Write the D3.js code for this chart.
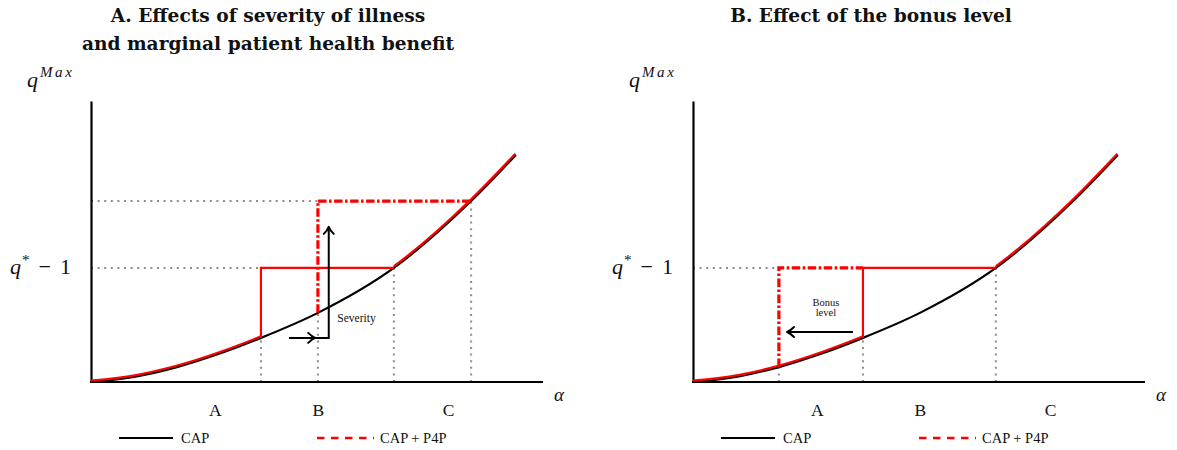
<!DOCTYPE html>
<html><head><meta charset="utf-8">
<script src="https://cdn.jsdelivr.net/npm/d3@7"></script>
<style>
body{margin:0;background:#fff;}
svg{display:block;}
text{font-family:"Liberation Serif","DejaVu Serif",serif;fill:#111;}
.title{font-family:"DejaVu Serif",serif;font-weight:bold;font-size:18.6px;}
</style></head><body>
<svg id="c" width="1177" height="450"></svg>
<script>
// ---- data ----
const alpha  = [0, 0.104, 0.190, 0.288, 0.376, 0.502, 0.670, 0.841, 0.940];
const qCurve = [0, 0.021, 0.053, 0.103, 0.157, 0.246, 0.406, 0.644, 0.808];
const qStarMinus1 = 0.406;
const qHighA = 0.644;
const cutsA = [0.376, 0.502, 0.670, 0.841];
const cutsB = [0.190, 0.376, 0.670];
const regionLabels = ["A", "B", "C"];
const regionAlpha = [0.275, 0.503, 0.791];
const titlesA = ["A. Effects of severity of illness", "and marginal patient health benefit"];
const titlesB = ["B. Effect of the bonus level"];
const legendLabels = ["CAP", "CAP + P4P"];

const svg = d3.select("#c");
const y = d3.scaleLinear().domain([0, 1]).range([382, 101]);
const qAt = a => qCurve[alpha.indexOf(a)];
const pts = alpha.map((a, i) => [a, qCurve[i]]);

const defs = svg.append("defs");

function arrowHead(g, x0, y0, angle) {
  g.append("path")
    .attr("d", "M-7,-5 Q-3,-1 0,0 Q-3,1 -7,5")
    .attr("fill", "none").attr("stroke", "#000").attr("stroke-width", 2)
    .attr("stroke-linejoin", "round").attr("stroke-linecap", "round")
    .attr("transform", `translate(${x0},${y0}) rotate(${angle})`);
}

function panel(id, x0, cuts, highLevels, titleLines, titleCx) {
  const x = d3.scaleLinear().domain([0, 1]).range([x0, x0 + 452]);
  const g = svg.append("g");
  const line = d3.line().x(d => x(d[0])).y(d => y(d[1])).curve(d3.curveMonotoneX);
  const gray = "#8c8c8c";

  // titles
  titleLines.forEach((t, i) => g.append("text").attr("class", "title")
    .attr("x", titleCx).attr("y", 22 + i * 28).attr("text-anchor", "middle").text(t));

  // dotted guides
  highLevels.forEach(h => g.append("line")
    .attr("x1", x(0)).attr("x2", x(h.a)).attr("y1", y(h.q)).attr("y2", y(h.q))
    .attr("stroke", gray).attr("stroke-width", 2).attr("stroke-dasharray", "2,4.6"));
  cuts.forEach(c => g.append("line")
    .attr("x1", x(c.a)).attr("x2", x(c.a)).attr("y1", y(0)).attr("y2", y(c.top))
    .attr("stroke", gray).attr("stroke-width", 2).attr("stroke-dasharray", "2,4.6"));

  // axes
  g.append("g").attr("transform", `translate(0,${y(0)})`)
    .call(d3.axisBottom(x).ticks(0).tickSizeOuter(0))
    .call(s => s.select(".domain").attr("stroke-width", 2.2).attr("d", `M${x(0)-1},0H${x(1)}`));
  g.append("g").attr("transform", `translate(${x(0)},0)`)
    .call(d3.axisLeft(y).ticks(0).tickSizeOuter(0))
    .call(s => s.select(".domain").attr("stroke-width", 2.2));

  // black curve
  g.append("path").datum(pts).attr("d", line).attr("fill", "none")
    .attr("stroke", "#000").attr("stroke-width", 2.2);

  // labels
  const qm = g.append("text").attr("x", x0 - 64).attr("y", 87).style("font-size", "22px");
  qm.append("tspan").style("font-style", "italic").text("q");
  qm.append("tspan").attr("dy", -10).attr("dx", 2).style("font-style", "italic").style("font-size", "15px").style("letter-spacing", "2.6px").text("Max");
  const qs = g.append("text").attr("x", x0 - 81).attr("y", 274).style("font-size", "22px");
  qs.append("tspan").style("font-style", "italic").text("q");
  qs.append("tspan").attr("dy", -9).attr("dx", 1).style("font-size", "15px").text("*");
  qs.append("tspan").attr("dy", 9).attr("dx", 9).text("−");
  qs.append("tspan").attr("dx", 9).text("1");
  g.append("text").attr("x", x(1) + 11).attr("y", 401).style("font-style", "italic")
    .style("font-size", "19px").text("α");
  regionLabels.forEach((l, i) => g.append("text").attr("x", x(regionAlpha[i])).attr("y", 416)
    .attr("text-anchor", "middle").style("font-size", "17.5px").text(l));

  // legend
  g.append("line").attr("x1", x0 + 28).attr("x2", x0 + 82).attr("y1", 438).attr("y2", 438)
    .attr("stroke", "#000").attr("stroke-width", 2.2);
  g.append("text").attr("x", x0 + 90).attr("y", 443).style("font-size", "14.5px").text(legendLabels[0]);
  g.append("line").attr("x1", x0 + 226).attr("x2", x0 + 283).attr("y1", 438).attr("y2", 438)
    .attr("stroke", "#f00").attr("stroke-width", 2.6).attr("stroke-dasharray", "7.5,6.5");
  g.append("text").attr("x", x0 + 289).attr("y", 443).style("font-size", "14.5px").text(legendLabels[1]);

  return {g, x, line};
}

function clippedRed(p, id, a0, a1) {
  const {g, x, line} = p;
  defs.append("clipPath").attr("id", id).append("rect")
    .attr("x", x(a0)).attr("width", x(a1) - x(a0)).attr("y", 0).attr("height", 450);
  g.append("path").datum(pts).attr("d", line).attr("fill", "none")
    .attr("clip-path", `url(#${id})`).attr("transform", "translate(-0.5,-1.3)")
    .attr("stroke", "#f00").attr("stroke-width", 2.2);
}

// ---- Panel A ----
const A = panel("A", 91,
  [{a: cutsA[0], top: qAt(cutsA[0])}, {a: cutsA[1], top: qAt(cutsA[1])},
   {a: cutsA[2], top: qStarMinus1}, {a: cutsA[3], top: qHighA}],
  [{a: cutsA[1], q: qHighA}, {a: cutsA[0], q: qStarMinus1}],
  titlesA, 268);
clippedRed(A, "ca1", 0, cutsA[0]);
clippedRed(A, "ca2", cutsA[2], 1.05);
A.g.append("path").datum([[cutsA[0], qAt(cutsA[0])], [cutsA[0], qStarMinus1], [cutsA[2], qStarMinus1]])
  .attr("d", d3.line().x(d => A.x(d[0])).y(d => y(d[1])))
  .attr("fill", "none").attr("stroke", "#f00").attr("stroke-width", 2.2);
A.g.append("path").datum([[cutsA[1], qAt(cutsA[1])], [cutsA[1], qHighA], [cutsA[3], qHighA]])
  .attr("d", d3.line().x(d => A.x(d[0])).y(d => y(d[1])))
  .attr("fill", "none").attr("stroke", "#f00").attr("stroke-width", 3.2)
  .attr("stroke-dasharray", "8.5,2.5,2.5,2.5");
const sevY = y(qAt(cutsA[0]));
A.g.append("path").attr("d", `M${A.x(0.438)},${sevY}H${A.x(0.526)}V${y(0.552)}`)
  .attr("fill", "none").attr("stroke", "#000").attr("stroke-width", 2);
arrowHead(A.g, A.x(0.496), sevY, 0);
arrowHead(A.g, A.x(0.526), y(0.552), -90);
A.g.append("text").attr("x", A.x(0.545)).attr("y", 322).style("font-size", "11.5px").text("Severity");

// ---- Panel B ----
const B = panel("B", 693,
  [{a: cutsB[0], top: qAt(cutsB[0])}, {a: cutsB[1], top: qAt(cutsB[1])}, {a: cutsB[2], top: qStarMinus1}],
  [{a: cutsB[0], q: qStarMinus1}],
  titlesB, 871);
clippedRed(B, "cb1", 0, cutsB[1]);
clippedRed(B, "cb2", cutsB[2], 1.05);
B.g.append("path").datum([[cutsB[1], qAt(cutsB[1])], [cutsB[1], qStarMinus1], [cutsB[2], qStarMinus1]])
  .attr("d", d3.line().x(d => B.x(d[0])).y(d => y(d[1])))
  .attr("fill", "none").attr("stroke", "#f00").attr("stroke-width", 2.2);
B.g.append("path").datum([[cutsB[0], qAt(cutsB[0])], [cutsB[0], qStarMinus1], [cutsB[1], qStarMinus1]])
  .attr("d", d3.line().x(d => B.x(d[0])).y(d => y(d[1])))
  .attr("fill", "none").attr("stroke", "#f00").attr("stroke-width", 3.2)
  .attr("stroke-dasharray", "8.5,2.5,2.5,2.5");
const bonY = y(0.178);
B.g.append("line").attr("x1", B.x(0.354)).attr("x2", B.x(0.208)).attr("y1", bonY).attr("y2", bonY)
  .attr("stroke", "#000").attr("stroke-width", 2);
arrowHead(B.g, B.x(0.208), bonY, 180);
B.g.append("text").attr("x", B.x(0.294)).attr("y", 306).attr("text-anchor", "middle")
  .style("font-size", "10.5px").text("Bonus");
B.g.append("text").attr("x", B.x(0.294)).attr("y", 316).attr("text-anchor", "middle")
  .style("font-size", "10.5px").text("level");
</script>
</body></html>
